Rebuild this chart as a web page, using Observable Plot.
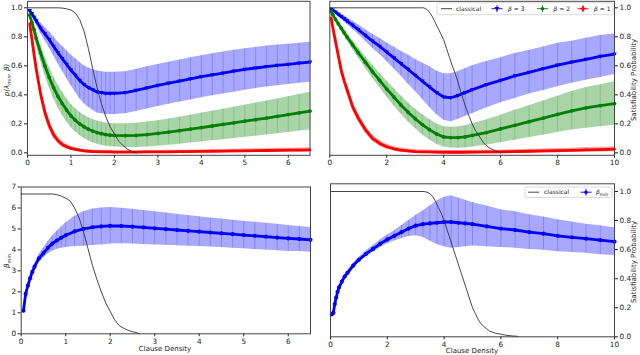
<!DOCTYPE html>
<html><head><meta charset="utf-8">
<script src="https://cdn.jsdelivr.net/npm/d3@7"></script>
<script src="https://cdn.jsdelivr.net/npm/@observablehq/plot@0.6"></script>
<style>
body{margin:0;background:#fff}
#chart{position:relative;width:640px;height:355px;font-family:"DejaVu Sans",sans-serif}
#chart svg{position:absolute;left:0;top:0}
</style></head><body><div id="chart"></div>
<script>
// ---------- data: top-left (x 0..6.5) ----------
const TL_x = [0.05,0.1,0.15,0.2,0.3,0.4,0.5,0.6,0.7,0.8,0.9,1.0,1.1,1.2,1.3,1.4,1.5,1.6,1.7,1.8,1.9,2.0,2.25,2.5,2.75,3.0,3.25,3.5,3.75,4.0,4.25,4.5,4.75,5.0,5.25,5.5,5.75,6.0,6.25,6.5];
const TL_b3 = [.98,.96,.935,.91,.86,.82,.78,.735,.69,.65,.61,.57,.535,.50,.47,.45,.435,.42,.415,.41,.41,.41,.415,.43,.448,.465,.48,.495,.51,.525,.538,.55,.563,.575,.585,.595,.603,.61,.618,.625];
const TL_b3e = [.01,.015,.02,.025,.035,.045,.055,.065,.075,.085,.095,.105,.115,.125,.13,.135,.14,.145,.145,.145,.145,.145,.145,.145,.145,.145,.145,.145,.145,.145,.145,.145,.145,.143,.142,.141,.14,.139,.138,.138];
const TL_b2 = [.95,.9,.85,.79,.69,.6,.52,.45,.39,.34,.295,.255,.225,.2,.18,.163,.15,.14,.132,.126,.122,.12,.118,.12,.126,.134,.143,.153,.163,.174,.185,.196,.207,.218,.229,.24,.252,.264,.276,.288];
const TL_b2e = [.015,.025,.035,.045,.055,.065,.07,.075,.078,.08,.08,.08,.08,.08,.08,.08,.08,.08,.08,.08,.08,.08,.082,.084,.086,.088,.09,.093,.096,.099,.102,.105,.108,.111,.114,.117,.12,.123,.126,.13];
const TL_b1 = [.89,.79,.68,.58,.41,.28,.19,.125,.085,.058,.042,.031,.024,.018,.014,.011,.009,.008,.007,.006,.006,.005,.005,.005,.006,.006,.007,.008,.009,.01,.011,.012,.013,.014,.015,.016,.017,.018,.019,.02];
const TL_b1e = [.02,.03,.035,.035,.035,.033,.03,.027,.023,.02,.017,.015,.013,.012,.011,.01,.01,.01,.01,.01,.01,.01,.01,.01,.01,.01,.01,.01,.01,.01,.011,.011,.012,.012,.013,.013,.014,.014,.015,.015];
const TL_cx = [0,0.7,0.8,0.9,1.0,1.1,1.2,1.3,1.4,1.5,1.6,1.7,1.8,1.9,2.0,2.1,2.2,2.3,2.4,2.5];
const TL_cy = [1,1,.998,.993,.985,.965,.92,.84,.72,.58,.45,.34,.25,.18,.13,.08,.05,.025,.01,0];

// ---------- data: top-right (x 0..10) ----------
const TR_x = [0.05,0.1,0.2,0.3,0.4,0.5,0.6,0.8,1.0,1.25,1.5,1.75,2.0,2.25,2.5,2.75,3.0,3.25,3.5,3.75,4.0,4.25,4.5,4.75,5.0,5.5,6.0,6.5,7.0,7.5,8.0,8.5,9.0,9.5,10.0];
const TR_b3 = [.99,.985,.97,.955,.94,.925,.91,.88,.85,.81,.77,.735,.695,.655,.615,.575,.535,.495,.455,.415,.385,.38,.395,.415,.435,.47,.5,.53,.555,.58,.605,.625,.645,.665,.68];
const TR_b3e = [.005,.008,.012,.015,.018,.02,.023,.028,.033,.04,.048,.055,.065,.075,.085,.1,.11,.125,.14,.15,.16,.165,.165,.165,.165,.16,.155,.155,.15,.15,.15,.145,.145,.145,.14];
const TR_b2 = [.975,.955,.92,.89,.86,.83,.8,.745,.69,.625,.56,.5,.44,.385,.33,.28,.235,.195,.16,.13,.11,.105,.105,.11,.12,.14,.165,.19,.215,.24,.265,.29,.31,.325,.34];
const TR_b2e = [.005,.008,.012,.015,.018,.02,.023,.03,.035,.04,.045,.05,.055,.06,.063,.066,.068,.07,.07,.07,.07,.072,.074,.077,.08,.087,.095,.103,.11,.118,.125,.133,.14,.145,.15];
const TR_b1 = [.93,.87,.77,.67,.57,.5,.44,.32,.24,.16,.1,.065,.042,.028,.018,.013,.009,.007,.006,.005,.004,.004,.004,.004,.005,.006,.007,.009,.011,.013,.015,.017,.02,.022,.025];
const TR_b1e = [.015,.02,.025,.03,.03,.03,.03,.03,.028,.025,.022,.02,.018,.016,.015,.014,.013,.012,.012,.012,.012,.012,.012,.012,.012,.012,.013,.013,.014,.014,.015,.015,.016,.016,.017];
const TR_cx = [0,3.3,3.4,3.5,3.6,3.7,3.8,3.9,4.0,4.1,4.2,4.3,4.4,4.5,4.6,4.7,4.8,4.9,5.0,5.1,5.2,5.3,5.4,5.5,5.6,5.7,5.8,5.9,6.0];
const TR_cy = [1,1,.99,.97,.94,.9,.86,.82,.78,.72,.66,.6,.55,.49,.42,.36,.3,.25,.2,.16,.13,.1,.07,.05,.035,.025,.015,.008,.003];

// ---------- data: bottom-left (beta_min, x 0..6.5) ----------
const BL_x = [0.05,0.1,0.15,0.2,0.25,0.3,0.4,0.5,0.6,0.7,0.8,0.9,1.0,1.2,1.4,1.6,1.8,2.0,2.25,2.5,2.75,3.0,3.25,3.5,3.75,4.0,4.25,4.5,4.75,5.0,5.25,5.5,5.75,6.0,6.25,6.5];
const BL_m = [1.1,1.9,2.3,2.65,2.95,3.2,3.6,3.85,4.1,4.3,4.45,4.58,4.7,4.88,5.0,5.08,5.12,5.15,5.14,5.11,5.07,5.03,4.99,4.95,4.91,4.87,4.83,4.79,4.75,4.71,4.67,4.63,4.59,4.55,4.52,4.48];
const BL_e = [.05,.06,.08,.1,.12,.14,.18,.23,.29,.36,.43,.5,.58,.72,.82,.87,.88,.87,.85,.83,.81,.79,.77,.75,.73,.71,.69,.68,.67,.66,.65,.64,.63,.62,.6,.59];
const BL_cx = [0,0.7,0.8,0.9,1.0,1.1,1.2,1.3,1.4,1.5,1.6,1.7,1.8,1.9,2.0,2.1,2.2,2.3,2.4,2.5,2.6,2.65];
const BL_cy = [1,1,.995,.985,.97,.95,.9,.83,.73,.61,.49,.39,.3,.22,.16,.1,.06,.04,.025,.015,.008,0];

// ---------- data: bottom-right (beta_min, x 0..10) ----------
const BR_x = [0.05,0.1,0.15,0.2,0.25,0.3,0.4,0.5,0.6,0.8,1.0,1.25,1.5,1.75,2.0,2.25,2.5,2.75,3.0,3.25,3.5,3.75,4.0,4.25,4.5,4.75,5.0,5.5,6.0,6.5,7.0,7.5,8.0,8.5,9.0,9.5,10.0];
const BR_m = [.155,.165,.225,.27,.31,.34,.38,.415,.44,.49,.53,.57,.605,.64,.67,.695,.72,.745,.765,.775,.78,.785,.79,.79,.785,.78,.775,.76,.745,.735,.72,.71,.695,.685,.675,.665,.655];
const BR_e = [.005,.006,.007,.008,.009,.01,.011,.012,.013,.015,.017,.02,.023,.027,.03,.035,.045,.055,.07,.09,.12,.15,.17,.18,.17,.16,.15,.14,.13,.125,.12,.115,.11,.105,.1,.1,.095];
const BR_cx = [0,3.3,3.4,3.5,3.6,3.7,3.8,3.9,4.0,4.1,4.2,4.3,4.4,4.5,4.6,4.7,4.8,4.9,5.0,5.1,5.2,5.3,5.4,5.5,5.6,5.8,6.0,6.2,6.4,6.6];
const BR_cy = [1,1,.995,.985,.965,.93,.89,.85,.8,.74,.68,.62,.56,.5,.44,.38,.32,.26,.2,.16,.12,.09,.07,.055,.04,.025,.018,.01,.006,.003];

// tick values
const ticksX65 = [0,1,2,3,4,5,6];
const ticksX10 = [0,2,4,6,8,10];
const ticksP = [0,0.2,0.4,0.6,0.8,1.0];
const ticksB = [0,1,2,3,4,5,6,7];

// ---------- helpers ----------
const W = 640, H = 355;
const BLUE = "#0000ff", GREEN = "#008000", RED = "#ff0000", CL = "#333";
const FS = 7.3;
const triDown = {draw(c, size){const r = Math.sqrt(size) * 0.62; c.moveTo(-r, -r*0.7); c.lineTo(r, -r*0.7); c.lineTo(0, r*1.0); c.closePath();}};

function series(xs, ms, es, color, symbol, r) {
  const data = xs.map((x, i) => ({x, y: ms[i], lo: ms[i] - es[i], hi: ms[i] + es[i]}));
  return [
    Plot.areaY(data, {x: "x", y1: "lo", y2: "hi", fill: color, fillOpacity: 0.34}),
    Plot.ruleX(data, {x: "x", y1: "lo", y2: "hi", stroke: color, strokeOpacity: 0.2, strokeWidth: 1}),
    Plot.line(data, {x: "x", y: "y", stroke: color, strokeWidth: 2.8}),
    Plot.dot(data, {x: "x", y: "y", fill: color, stroke: "none", symbol, r})
  ];
}
function classical(xs, ys) {
  const data = xs.map((x, i) => ({x, y: ys[i]}));
  return Plot.line(data, {x: "x", y: "y", stroke: CL, strokeWidth: 0.9});
}
function panel(fr, xd, yd, marks, noAxes) {
  return Plot.plot({
    width: W, height: H,
    marginLeft: fr[0], marginRight: W - fr[1], marginTop: fr[2], marginBottom: H - fr[3],
    x: noAxes ? {domain: xd, axis: null} : {domain: xd},
    y: noAxes ? {domain: yd, axis: null} : {domain: yd},
    style: {background: "transparent", overflow: "visible", color: "#222", fontFamily: "DejaVu Sans, sans-serif"},
    marks
  });
}
const axX = (t) => Plot.axisX({ticks: t, tickFormat: d3.format("d"), tickSize: 3, tickPadding: 2, fontSize: FS, label: null});
const axY = (t, anchor, fmt) => Plot.axisY({anchor, ticks: t, tickFormat: d3.format(fmt), tickSize: 3, tickPadding: 2, fontSize: FS, label: null});
const frame = () => Plot.frame({stroke: "#444", strokeWidth: 1});

const root = document.getElementById("chart");
const TOP_Y = [-0.017, 1.045];

// top-left
root.append(panel([27, 309.5, 0.8, 154.8], [0, 6.5], TOP_Y, [
  ...series(TL_x, TL_b3, TL_b3e, BLUE, triDown, 2.1),
  ...series(TL_x, TL_b2, TL_b2e, GREEN, "circle", 1.9),
  ...series(TL_x, TL_b1, TL_b1e, RED, "plus", 2.2),
  classical(TL_cx, TL_cy),
  axX(ticksX65), axY(ticksP, "left", ".1f"), frame()
]));
// top-right
root.append(panel([329.3, 614, 0.8, 154.8], [0, 10], TOP_Y, [
  ...series(TR_x, TR_b3, TR_b3e, BLUE, triDown, 2.1),
  ...series(TR_x, TR_b2, TR_b2e, GREEN, "circle", 1.9),
  ...series(TR_x, TR_b1, TR_b1e, RED, "plus", 2.2),
  classical(TR_cx, TR_cy),
  axX(ticksX10), axY(ticksP, "right", ".1f"), frame()
]));
// bottom-left
root.append(panel([20.7, 310, 186.5, 333.3], [0, 6.5], [0, 7], [
  ...series(BL_x, BL_m, BL_e, BLUE, "circle", 2.1),
  axX(ticksX65), axY(ticksB, "left", "d"), frame()
]));
root.append(panel([20.7, 310, 186.5, 333.3], [0, 6.5], [0, 1.05], [classical(BL_cx, BL_cy)], true));
// bottom-right
root.append(panel([330, 614, 183.3, 336.3], [0, 10], [0, 1.053], [
  ...series(BR_x, BR_m, BR_e, BLUE, "circle", 2.1),
  classical(BR_cx, BR_cy),
  axX(ticksX10), axY(ticksP, "right", ".1f"), frame()
]));

// ---------- labels and legends ----------
const svg = d3.select(root).append("svg").attr("width", W).attr("height", H)
  .style("font-family", "DejaVu Sans, sans-serif").style("overflow", "visible");
function vlabel(x, y, build) {
  const t = svg.append("text").attr("transform", `translate(${x},${y}) rotate(-90)`)
    .attr("text-anchor", "middle").attr("font-size", 7).attr("fill", "#222");
  build(t);
}
vlabel(9, 80, t => {
  t.append("tspan").attr("font-style", "italic").text("p(λ");
  t.append("tspan").attr("font-style", "italic").attr("font-size", 5).attr("dy", 1.5).text("min");
  t.append("tspan").attr("font-style", "italic").attr("dy", -1.5).text(", β)");
});
vlabel(9, 261, t => {
  t.append("tspan").attr("font-style", "italic").text("β");
  t.append("tspan").attr("font-style", "italic").attr("font-size", 5).attr("dy", 1.5).text("min");
});
vlabel(636, 80, t => t.text("Satisfiability Probability"));
vlabel(636, 262, t => t.text("Satisfiability Probability"));
svg.append("text").attr("x", 165).attr("y", 350.5).attr("text-anchor", "middle").attr("font-size", 7).attr("fill", "#222").text("Clause Density");
svg.append("text").attr("x", 472).attr("y", 353).attr("text-anchor", "middle").attr("font-size", 7).attr("fill", "#222").text("Clause Density");

function legendBox(x, y, w, h) {
  svg.append("rect").attr("x", x).attr("y", y).attr("width", w).attr("height", h).attr("rx", 1.5)
    .attr("fill", "#fff").attr("fill-opacity", 0.85).attr("stroke", "#d0d0d0").attr("stroke-width", 0.8);
}
function legLine(x1, x2, y, color, w) {
  svg.append("line").attr("x1", x1).attr("x2", x2).attr("y1", y).attr("y2", y).attr("stroke", color).attr("stroke-width", w);
}
function legErr(cx, y, color, sym) {
  legLine(cx - 5.5, cx + 5.5, y, color, 0.9);
  svg.append("line").attr("x1", cx).attr("x2", cx).attr("y1", y - 3.5).attr("y2", y + 3.5).attr("stroke", color).attr("stroke-width", 0.9);
  const g = svg.append("path").attr("transform", `translate(${cx},${y})`).attr("fill", color);
  if (sym === "tri") g.attr("d", "M-2.4,-1.6L2.4,-1.6L0,2.4Z");
  else if (sym === "plus") g.attr("d", d3.symbol(d3.symbolCross, 14)());
  else g.attr("d", d3.symbol(d3.symbolCircle, 10)());
}
function legText(x, y, build) {
  const t = svg.append("text").attr("x", x).attr("y", y + 2).attr("font-size", 6).attr("fill", "#222");
  build(t);
}
// top-right legend
legendBox(437, 2.7, 176, 12);
legLine(441, 452, 8.7, CL, 0.9);
legText(456, 8.7, t => t.text("classical"));
[[497, BLUE, "tri", "3"], [542.5, GREEN, "circle", "2"], [583, RED, "plus", "1"]].forEach(([cx, c, s, v]) => {
  legErr(cx, 8.7, c, s);
  legText(cx + 11, 8.7, t => { t.append("tspan").attr("font-style", "italic").text("β"); t.append("tspan").text(" = " + v); });
});
// bottom-right legend
legendBox(525, 187, 87, 10.5);
legLine(528, 539, 192.2, CL, 0.9);
legText(544, 192.2, t => t.text("classical"));
legErr(586, 192.2, BLUE, "circle");
legText(596, 192.2, t => {
  t.append("tspan").attr("font-style", "italic").text("β");
  t.append("tspan").attr("font-style", "italic").attr("font-size", 4.5).attr("dy", 1.3).text("min");
});
</script></body></html>
